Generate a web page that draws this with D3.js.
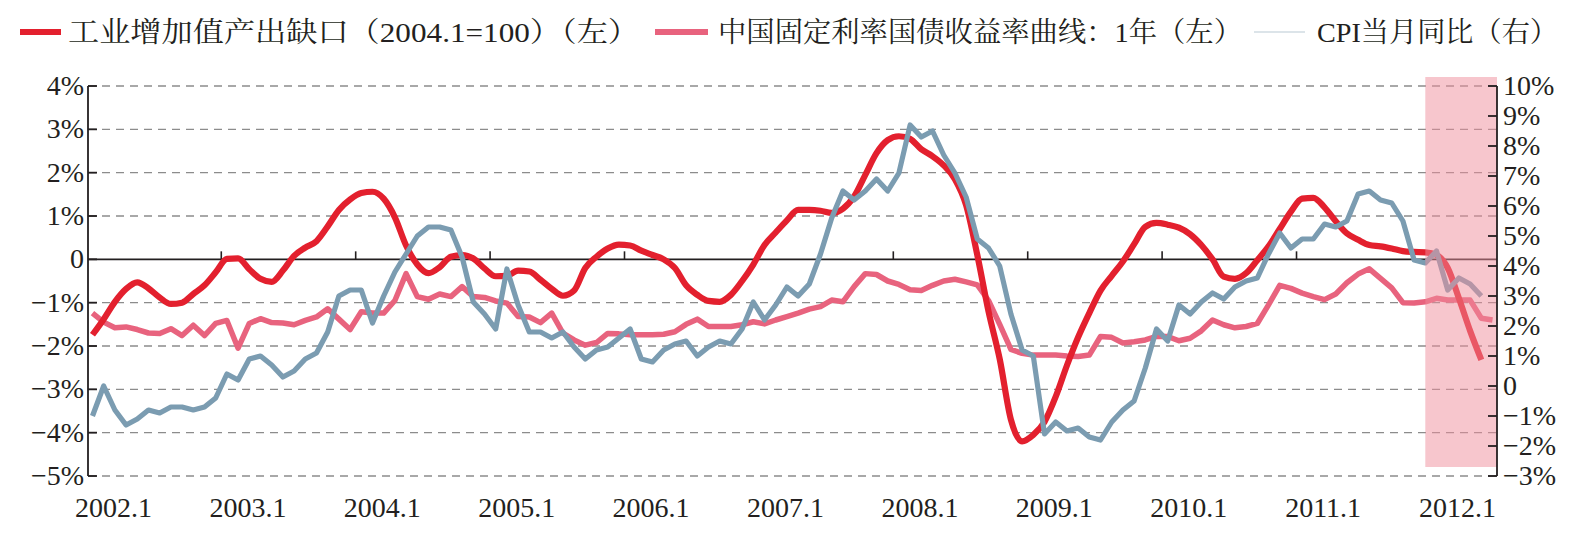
<!DOCTYPE html>
<html>
<head>
<meta charset="utf-8">
<script src="https://cdn.jsdelivr.net/npm/d3@7"></script>
<style>
  body { margin: 0; background: #fff; }
  text { font-family: "Liberation Serif", "Noto Serif CJK SC", "Noto Sans CJK SC", serif; fill: #231f20; }
</style>
</head>
<body>
<script>
// all series are monthly, index 0 = 2002.1
var yearLabels = ["2002.1", "2003.1", "2004.1", "2005.1", "2006.1", "2007.1",
                  "2008.1", "2009.1", "2010.1", "2011.1", "2012.1"];

// 工业增加值产出缺口 (left axis, %), 2002.1 - 2012.5
var outputGap = [
  -1.74, -1.38, -0.98, -0.68, -0.53, -0.67, -0.88, -1.03, -1.00, -0.80, -0.60, -0.30,
   0.01,  0.02, -0.23, -0.45, -0.52, -0.26,  0.08,  0.27,  0.42,  0.76,  1.14,  1.38,
   1.53,  1.56,  1.40,  0.97,  0.32, -0.12, -0.32, -0.18,  0.06,  0.10,  0.02, -0.21,
  -0.39, -0.38, -0.26, -0.28, -0.47, -0.68, -0.84, -0.72, -0.20,  0.06,  0.25,  0.34,
   0.32,  0.20,  0.10,  0.00, -0.20, -0.60, -0.82, -0.96, -0.98, -0.82, -0.50, -0.12,
   0.33,  0.62,  0.90,  1.14,  1.14,  1.12,  1.07,  1.17,  1.45,  1.95,  2.45,  2.75,
   2.84,  2.78,  2.54,  2.38,  2.17,  1.85,  1.25,  0.10, -1.20, -2.30, -3.70, -4.20,
  -4.05, -3.75, -3.17, -2.45, -1.80, -1.24, -0.72, -0.38, -0.05,  0.35,  0.75,  0.84,
   0.80,  0.73,  0.58,  0.33,  0.00, -0.40, -0.45, -0.32, -0.02,  0.30,  0.70,  1.10,
   1.40,  1.42,  1.20,  0.88,  0.60,  0.45,  0.33,  0.30,  0.25,  0.19,  0.17,  0.16,
   0.10, -0.20, -0.90, -1.65, -2.32
];

// 中国固定利率国债收益率曲线：1年 (left axis), 2002.1 - 2012.6
var bondYield = [
  -1.24, -1.45, -1.58, -1.56, -1.62, -1.70, -1.71, -1.60, -1.76, -1.52, -1.76, -1.48,
  -1.41, -2.05, -1.48, -1.37, -1.46, -1.47, -1.51, -1.41, -1.33, -1.14, -1.38, -1.62,
  -1.21, -1.24, -1.24, -0.95, -0.33, -0.86, -0.92, -0.80, -0.86, -0.63, -0.86, -0.88,
  -0.96, -1.01, -1.32, -1.33, -1.46, -1.24, -1.70, -1.86, -1.98, -1.92, -1.71, -1.72,
  -1.74, -1.74, -1.74, -1.73, -1.67, -1.50, -1.38, -1.55, -1.55, -1.55, -1.51, -1.44,
  -1.49, -1.40, -1.32, -1.24, -1.15, -1.09, -0.94, -0.98, -0.63, -0.33, -0.35, -0.50,
  -0.58, -0.70, -0.72, -0.60, -0.50, -0.46, -0.52, -0.59, -0.95, -1.50, -2.08, -2.17,
  -2.21, -2.21, -2.21, -2.23, -2.24, -2.21, -1.78, -1.80, -1.93, -1.90, -1.86, -1.78,
  -1.78, -1.88, -1.82, -1.65, -1.40, -1.51, -1.58, -1.55, -1.48, -1.05, -0.60, -0.67,
  -0.78, -0.86, -0.93, -0.80, -0.54, -0.34, -0.22, -0.44, -0.66, -1.00, -1.01, -0.98,
  -0.90, -0.94, -0.94, -0.94, -1.36, -1.40
];

// CPI当月同比 (right axis, %), 2002.1 - 2012.5
var cpi = [
  -1.0,  0.0, -0.8, -1.3, -1.1, -0.8, -0.9, -0.7, -0.7, -0.8, -0.7, -0.4,
   0.4,  0.2,  0.9,  1.0,  0.7,  0.3,  0.5,  0.9,  1.1,  1.8,  3.0,  3.2,
   3.2,  2.1,  3.0,  3.8,  4.4,  5.0,  5.3,  5.3,  5.2,  4.3,  2.8,  2.4,
   1.9,  3.9,  2.7,  1.8,  1.8,  1.6,  1.8,  1.3,  0.9,  1.2,  1.3,  1.6,
   1.9,  0.9,  0.8,  1.2,  1.4,  1.5,  1.0,  1.3,  1.5,  1.4,  1.9,  2.8,
   2.2,  2.7,  3.3,  3.0,  3.4,  4.4,  5.6,  6.5,  6.2,  6.5,  6.9,  6.5,
   7.1,  8.7,  8.3,  8.5,  7.7,  7.1,  6.3,  4.9,  4.6,  4.0,  2.4,  1.2,
   1.0, -1.6, -1.2, -1.5, -1.4, -1.7, -1.8, -1.2, -0.8, -0.5,  0.6,  1.9,
   1.5,  2.7,  2.4,  2.8,  3.1,  2.9,  3.3,  3.5,  3.6,  4.4,  5.1,  4.6,
   4.9,  4.9,  5.4,  5.3,  5.5,  6.4,  6.5,  6.2,  6.1,  5.5,  4.2,  4.1,
   4.5,  3.2,  3.6,  3.4,  3.0
];

var leftTicks = [-5, -4, -3, -2, -1, 0, 1, 2, 3, 4];
var rightTicks = [-3, -2, -1, 0, 1, 2, 3, 4, 5, 6, 7, 8, 9, 10];
var shadeFrom = 119; // 2011.12 onward is highlighted

var legendItems = [
  { label: "工业增加值产出缺口（2004.1=100）（左）", color: "#e3202e", width: 6 },
  { label: "中国固定利率国债收益率曲线：1年（左）", color: "#e8637e", width: 6 },
  { label: "CPI当月同比（右）", color: "#b9c9d4", width: 1.2 }
];

(function () {
  "use strict";
  var W = 1586, H = 548;
  var pl = 88, pr = 1497, pt = 86, pb = 476;

  var svg = d3.select("body").append("svg")
      .attr("width", W).attr("height", H);

  var x = d3.scaleLinear().domain([-0.4, 125.4]).range([pl, pr]);
  var yL = d3.scaleLinear().domain([-5, 4]).range([pb, pt]);
  var yR = d3.scaleLinear().domain([-3, 10]).range([pb, pt]);

  function pct(v) {
    if (v === 0) return "0";
    return (v < 0 ? "\u2212" + (-v) : v) + "%";
  }

  // dashed grid
  svg.append("g").selectAll("line")
    .data(leftTicks.filter(function (d) { return d !== 0; }))
    .enter().append("line")
      .attr("x1", pl).attr("x2", pr)
      .attr("y1", function (d) { return yL(d); })
      .attr("y2", function (d) { return yL(d); })
      .attr("stroke", "#8c8c8c")
      .attr("stroke-width", 1.4)
      .attr("stroke-dasharray", "8,6");

  // zero line + year ticks
  svg.append("line")
    .attr("x1", pl).attr("x2", pr)
    .attr("y1", yL(0)).attr("y2", yL(0))
    .attr("stroke", "#231f20").attr("stroke-width", 1.6);

  svg.append("g").selectAll("line")
    .data(d3.range(1, yearLabels.length))
    .enter().append("line")
      .attr("x1", function (d) { return x(d * 12 - 0.5); })
      .attr("x2", function (d) { return x(d * 12 - 0.5); })
      .attr("y1", yL(0)).attr("y2", yL(0) - 8)
      .attr("stroke", "#231f20").attr("stroke-width", 1.6);

  // series
  function drawLine(data, y, color, w, curve) {
    svg.append("path")
      .datum(data)
      .attr("fill", "none")
      .attr("stroke", color)
      .attr("stroke-width", w)
      .attr("stroke-linejoin", "round")
      .attr("d", d3.line()
        .x(function (d, i) { return x(i); })
        .y(function (d) { return y(d); })
        .curve(curve));
  }
  drawLine(bondYield, yL, "#e8637e", 5.5, d3.curveLinear);
  drawLine(outputGap, yL, "#e3202e", 6.2, d3.curveMonotoneX);
  drawLine(cpi, yR, "#7b9cb1", 5.2, d3.curveLinear);

  // highlighted window, drawn over the lines
  svg.append("rect")
    .attr("x", x(shadeFrom))
    .attr("y", pt - 9)
    .attr("width", pr - x(shadeFrom))
    .attr("height", pb - pt)
    .attr("fill", "#ef8e9b")
    .attr("opacity", 0.5);

  // left axis
  var gl = svg.append("g");
  gl.append("line")
    .attr("x1", pl).attr("x2", pl).attr("y1", pt).attr("y2", pb)
    .attr("stroke", "#231f20").attr("stroke-width", 1.8);
  gl.selectAll(".tk").data(leftTicks).enter().append("line")
    .attr("class", "tk")
    .attr("x1", pl).attr("x2", pl + 9)
    .attr("y1", function (d) { return yL(d); })
    .attr("y2", function (d) { return yL(d); })
    .attr("stroke", "#231f20").attr("stroke-width", 1.8);
  gl.selectAll("text").data(leftTicks).enter().append("text")
    .attr("x", pl - 4)
    .attr("y", function (d) { return yL(d) + 9; })
    .attr("text-anchor", "end")
    .style("font-size", "28px")
    .text(pct);

  // right axis
  var gr = svg.append("g");
  gr.append("line")
    .attr("x1", pr).attr("x2", pr).attr("y1", pt).attr("y2", pb)
    .attr("stroke", "#231f20").attr("stroke-width", 1.8);
  gr.selectAll(".tk").data(rightTicks).enter().append("line")
    .attr("class", "tk")
    .attr("x1", pr - 9).attr("x2", pr)
    .attr("y1", function (d) { return yR(d); })
    .attr("y2", function (d) { return yR(d); })
    .attr("stroke", "#231f20").attr("stroke-width", 1.8);
  gr.selectAll("text").data(rightTicks).enter().append("text")
    .attr("x", pr + 6)
    .attr("y", function (d) { return yR(d) + 9; })
    .attr("text-anchor", "start")
    .style("font-size", "28px")
    .text(pct);

  // x labels
  svg.append("g").selectAll("text")
    .data(yearLabels)
    .enter().append("text")
      .attr("x", function (d, i) { return x(i * 12) + 21; })
      .attr("y", 517)
      .attr("text-anchor", "middle")
      .style("font-size", "28px")
      .text(function (d) { return d; });

  // legend
  var legendPos = [
    { x1: 20, x2: 61, tx: 68, tw: 571 },
    { x1: 655, x2: 708, tx: 718, tw: 524 },
    { x1: 1254, x2: 1305, tx: 1317, tw: 241 }
  ];
  var lg = svg.append("g").selectAll("g")
    .data(legendItems)
    .enter().append("g");
  lg.append("line")
    .attr("x1", function (d, i) { return legendPos[i].x1; })
    .attr("x2", function (d, i) { return legendPos[i].x2; })
    .attr("y1", 32).attr("y2", 32)
    .attr("stroke", function (d) { return d.color; })
    .attr("stroke-width", function (d) { return d.width; });
  lg.append("text")
    .attr("x", function (d, i) { return legendPos[i].tx; })
    .attr("y", 42)
    .attr("textLength", function (d, i) { return legendPos[i].tw; })
    .attr("lengthAdjust", "spacingAndGlyphs")
    .style("font-size", "28px")
    .text(function (d) { return d.label; });
})();
</script>
</body>
</html>
